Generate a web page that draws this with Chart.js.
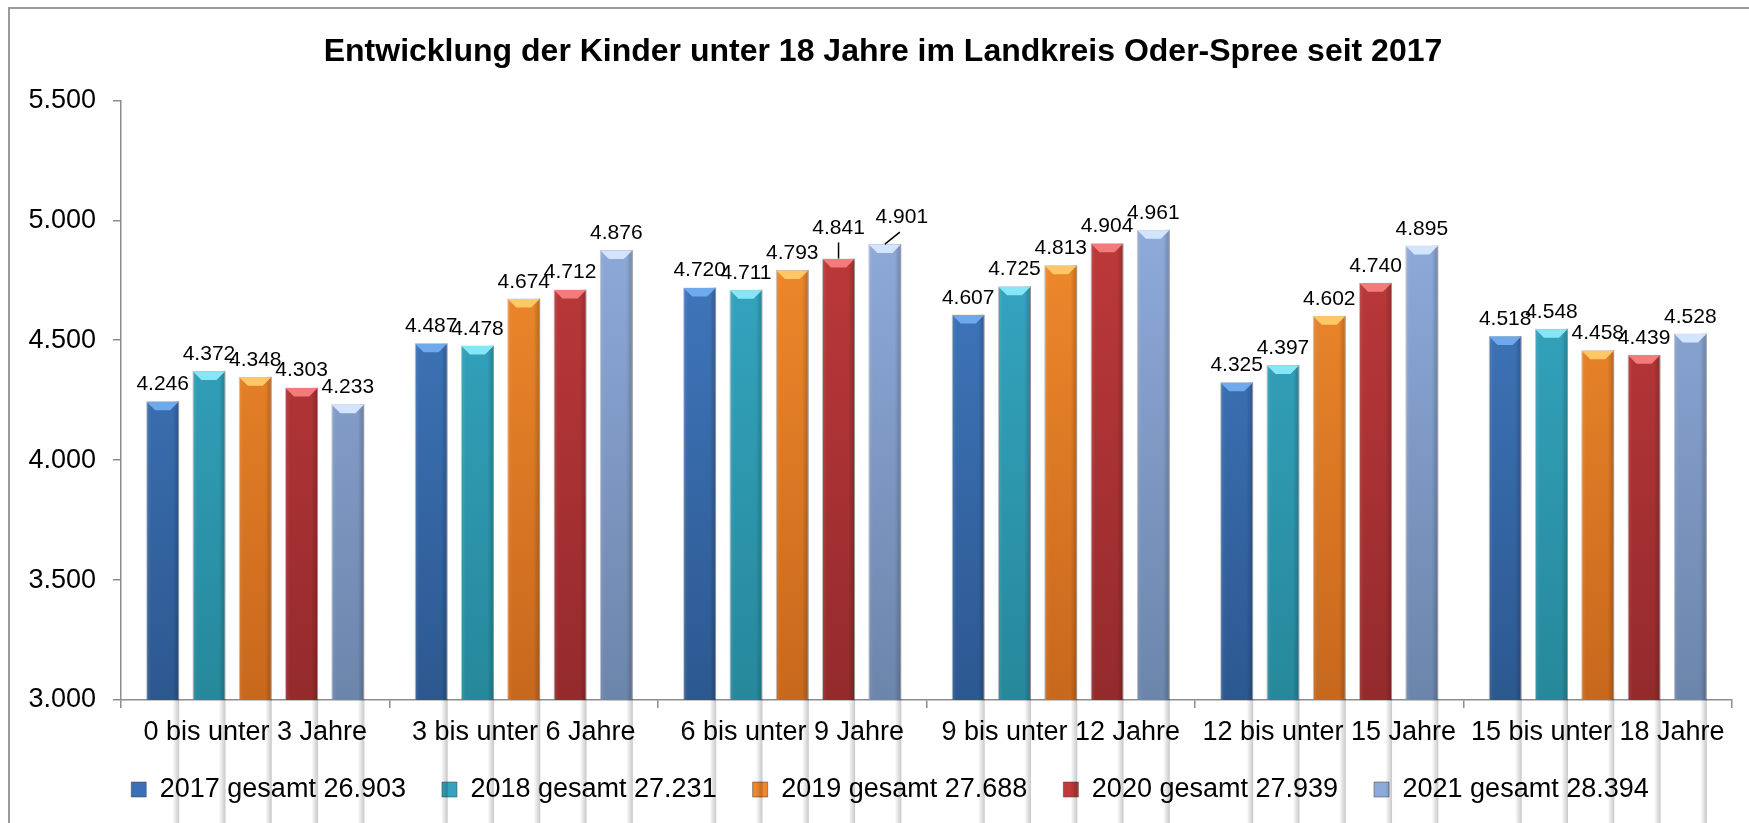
<!DOCTYPE html>
<html>
<head>
<meta charset="utf-8">
<script src="https://cdn.jsdelivr.net/npm/chart.js@4"></script>
<style>
  html, body { margin: 0; padding: 0; background: #fff; overflow: hidden; }
  #wrap { width: 1749px; height: 823px; }
  #kinderChart { display: block; }
</style>
</head>
<body>
<div id="wrap"><canvas id="kinderChart" width="1749" height="823"></canvas></div>
<script>
  // Altersgruppen (x-Achse)
  const categories = ["0 bis unter 3 Jahre", "3 bis unter 6 Jahre", "6 bis unter 9 Jahre",
    "9 bis unter 12 Jahre", "12 bis unter 15 Jahre", "15 bis unter 18 Jahre"];

  // Legendentexte
  const seriesLabels = ["2017 gesamt 26.903", "2018 gesamt 27.231", "2019 gesamt 27.688",
    "2020 gesamt 27.939", "2021 gesamt 28.394"];

  // Werte je Jahr
  const values2017 = [4246, 4487, 4720, 4607, 4325, 4518];
  const values2018 = [4372, 4478, 4711, 4725, 4397, 4548];
  const values2019 = [4348, 4674, 4793, 4813, 4602, 4458];
  const values2020 = [4303, 4712, 4841, 4904, 4740, 4439];
  const values2021 = [4233, 4876, 4901, 4961, 4895, 4528];

  // y-Achse
  const yMin = 3000;
  const yMax = 5500;
  const yStep = 500;

  // Farben: Grund, oben, unten, Fase
  const palette = [
    { base: "#3b6fb6", top: "#4682cc", bottom: "#2c5890", bevel: "#6ea9ee" },
    { base: "#33a3c0", top: "#39b0cd", bottom: "#26889b", bevel: "#86e6f5" },
    { base: "#f2862b", top: "#f9922f", bottom: "#c8681d", bevel: "#ffc766" },
    { base: "#c0393b", top: "#c93d3e", bottom: "#942a2c", bevel: "#f37b7b" },
    { base: "#8eaadb", top: "#97b4e6", bottom: "#6c85ab", bevel: "#d2e4ff" }
  ];

  const allValues = [values2017, values2018, values2019, values2020, values2021];

  // Label-Verschiebungen (dataset-index) mit Hilfslinie
  const labelNudge = {
    "3-2": { dx: 0, dy: -13, leader: true },
    "4-2": { dx: 17, dy: -10, leader: true }
  };

  const fmt = v => v.toLocaleString("de-DE");
  const FONT = "'Liberation Sans', Arial, sans-serif";

  function barFill(i) {
    return ctx => {
      const area = ctx.chart.chartArea;
      if (!area) return palette[i].base;
      const g = ctx.chart.ctx.createLinearGradient(0, area.top, 0, area.bottom);
      g.addColorStop(0, palette[i].top);
      g.addColorStop(1, palette[i].bottom);
      return g;
    };
  }

  const datasets = allValues.map((vals, i) => ({
    label: seriesLabels[i],
    data: vals,
    backgroundColor: barFill(i),
    borderColor: "rgba(60,60,60,0.35)",
    borderWidth: 1,
    categoryPercentage: 0.862,
    barPercentage: 0.714
  }));

  // Rahmen um das Diagramm, Titel/Legende leicht nach rechts
  const framePlugin = {
    id: "frame",
    afterLayout(chart) {
      const shift = (box, dx) => { if (box) { box.left += dx; box.right += dx; } };
      shift(chart.titleBlock, 7);
      shift(chart.legend, 14);
    },
    beforeDraw(chart) {
      const c = chart.ctx;
      c.save();
      c.fillStyle = "#fff";
      c.fillRect(0, 0, chart.width, chart.height);
      c.strokeStyle = "#9a9a9a";
      c.lineWidth = 2;
      c.beginPath();
      c.moveTo(9, chart.height);
      c.lineTo(9, 8);
      c.lineTo(chart.width, 8);
      c.stroke();
      c.restore();
    }
  };

  // 3D-Optik der Balken und Datenbeschriftung
  const barDecor = {
    id: "barDecor",
    afterDatasetsDraw(chart) {
      const c = chart.ctx;
      chart.data.datasets.forEach((ds, di) => {
        const meta = chart.getDatasetMeta(di);
        meta.data.forEach((bar, idx) => {
          const w = bar.width;
          const x0 = bar.x - w / 2;
          const x1 = bar.x + w / 2;
          const y0 = bar.y;
          const y1 = bar.base;
          c.save();
          // seitliche Schattierung
          const hg = c.createLinearGradient(x0, 0, x1, 0);
          hg.addColorStop(0, "rgba(255,255,255,0.10)");
          hg.addColorStop(0.15, "rgba(255,255,255,0.0)");
          hg.addColorStop(0.8, "rgba(0,0,0,0.0)");
          hg.addColorStop(1, "rgba(0,0,0,0.22)");
          c.fillStyle = hg;
          c.fillRect(x0, y0, w, y1 - y0);
          // Fase oben
          const b = 9;
          c.beginPath();
          c.moveTo(x0 + 0.5, y0 + 0.5);
          c.lineTo(x1 - 0.5, y0 + 0.5);
          c.lineTo(x1 - b, y0 + b);
          c.lineTo(x0 + b, y0 + b);
          c.closePath();
          c.fillStyle = palette[di].bevel;
          c.fill();
          // Fase unten (dezent)
          c.beginPath();
          c.moveTo(x0 + 1, y1);
          c.lineTo(x1 - 1, y1);
          c.lineTo(x1 - b, y1 - b);
          c.lineTo(x0 + b, y1 - b);
          c.closePath();
          c.fillStyle = "rgba(0,0,0,0.10)";
          c.fill();
          c.restore();

          // Beschriftung
          const n = labelNudge[di + "-" + idx] || { dx: 0, dy: 0 };
          const tx = bar.x + n.dx;
          const ty = y0 - 11 + n.dy;
          c.save();
          c.font = "21px " + FONT;
          c.fillStyle = "#000";
          c.textAlign = "center";
          c.textBaseline = "alphabetic";
          c.fillText(fmt(ds.data[idx]), tx, ty);
          if (n.leader) {
            c.strokeStyle = "#000";
            c.lineWidth = 1.5;
            c.beginPath();
            if (n.dx === 0) {
              c.moveTo(bar.x, ty + 8);
              c.lineTo(bar.x, y0);
            } else {
              c.moveTo(tx - 2, ty + 9);
              c.lineTo(bar.x, y0);
            }
            c.stroke();
          }
          c.restore();
        });
      });
    }
  };

  const canvas = document.getElementById("kinderChart");

  const chart = new Chart(canvas, {
    type: "bar",
    data: { labels: categories, datasets: datasets },
    plugins: [framePlugin, barDecor],
    options: {
      responsive: false,
      animation: false,
      devicePixelRatio: 1,
      layout: { padding: { left: 20, right: 17, top: 0, bottom: 10 } },
      plugins: {
        tooltip: { enabled: false },
        title: {
          display: true,
          text: "Entwicklung der Kinder unter 18 Jahre im Landkreis Oder-Spree seit 2017",
          color: "#000",
          font: { family: FONT, size: 32, weight: "bold" },
          padding: { top: 33, bottom: 29 }
        },
        legend: {
          position: "bottom",
          labels: {
            color: "#000",
            font: { family: FONT, size: 27 },
            boxWidth: 15,
            boxHeight: 15,
            padding: 36,
            generateLabels(ch) {
              const items = Chart.defaults.plugins.legend.labels.generateLabels(ch);
              items.forEach((it, i) => {
                it.fillStyle = palette[i].base;
                it.strokeStyle = "rgba(60,60,60,0.5)";
                it.lineWidth = 1;
              });
              return items;
            }
          }
        }
      },
      scales: {
        x: {
          offset: true,
          afterFit(scale) { scale.height -= 17; },
          grid: { display: true, offset: true, drawOnChartArea: false, tickLength: 8, color: "#8c8c8c", lineWidth: 1.5 },
          border: { color: "#8c8c8c", width: 1.5 },
          ticks: {
            color: "#000",
            padding: 11,
            maxRotation: 0,
            autoSkip: false,
            font: { family: FONT, size: 27, lineHeight: 1.0 }
          }
        },
        y: {
          min: yMin,
          max: yMax,
          afterFit(scale) { scale.width = 101; },
          grid: { display: true, drawOnChartArea: false, tickLength: 8, color: "#8c8c8c", lineWidth: 1.5 },
          border: { color: "#8c8c8c", width: 1.5 },
          ticks: {
            stepSize: yStep,
            color: "#000",
            padding: 17,
            font: { family: FONT, size: 27 },
            callback: v => fmt(v)
          }
        }
      }
    }
  });
</script>
</body>
</html>
